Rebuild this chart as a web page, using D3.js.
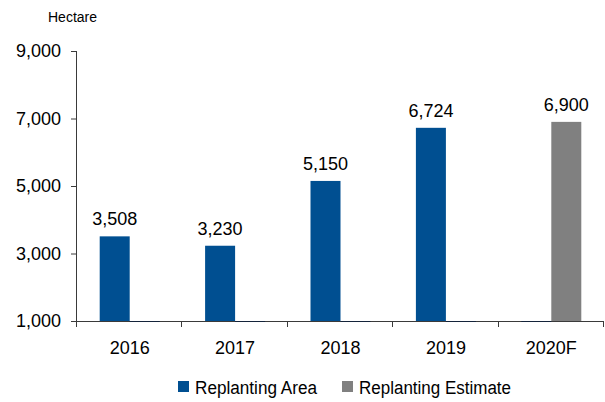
<!DOCTYPE html>
<html lang="en">
<head>
<meta charset="UTF-8">
<title>Replanting Area</title>
<style>
  body { margin: 0; background: #fff; }
  svg text { font-family: "Liberation Sans", Arial, sans-serif; fill: #000; }
</style>
</head>
<body>
<svg id="chart"></svg>
<script src="https://cdnjs.cloudflare.com/ajax/libs/d3/7.9.0/d3.min.js"></script>
<script>
// data
const years = ["2016", "2017", "2018", "2019", "2020F"];
const replantingArea = [3508, 3230, 5150, 6724, 0];
const replantingEstimate = [0, 0, 0, 0, 6900];
const yTicks = [1000, 3000, 5000, 7000, 9000];
const seriesNames = ["Replanting Area", "Replanting Estimate"];
const seriesColors = ["#004F91", "#808080"];

const w = 605, h = 402;
const margin = { top: 51, right: 1, bottom: 81, left: 77 };

const svg = d3.select("#chart").attr("width", w).attr("height", h);

const x = d3.scaleBand()
    .domain(years)
    .range([margin.left, w - margin.right]);

const y = d3.scaleLinear()
    .domain([1000, 9000])
    .range([h - margin.bottom, margin.top]);

const barW = 30;

// y axis
const yAxis = svg.append("g")
    .attr("transform", `translate(${margin.left},0)`)
    .call(d3.axisLeft(y).tickValues(yTicks).tickFormat(d3.format(",")).tickSize(6).tickPadding(10));
yAxis.select(".domain").attr("d", `M-0.5,${margin.top}V${h - margin.bottom}`);

// x axis with ticks at band edges
const xAxis = svg.append("g")
    .attr("transform", `translate(0,${h - margin.bottom})`)
    .call(d3.axisBottom(x).tickSize(0).tickPadding(20));
xAxis.select(".domain").attr("d", `M${margin.left - 6},0.5H${w - margin.right}`);
xAxis.selectAll(".edge")
    .data(years.map(d => x(d)).concat([x(years[years.length - 1]) + x.bandwidth()]))
    .enter()
    .append("line")
    .attr("class", "edge")
    .attr("x1", d => Math.round(d) - 0.5)
    .attr("x2", d => Math.round(d) - 0.5)
    .attr("y1", 0)
    .attr("y2", 6);

svg.selectAll(".domain, .tick line, .edge").attr("stroke", "#3a3a3a");
svg.selectAll(".tick text").attr("font-size", 18).attr("fill", "#000")
    .attr("font-family", "Liberation Sans, Arial, sans-serif");

// bars
const groups = [replantingArea, replantingEstimate];
groups.forEach((vals, s) => {
    svg.append("g").selectAll("rect")
        .data(vals)
        .enter()
        .append("rect")
        .attr("x", (d, i) => x(years[i]) + x.bandwidth() / 2 - barW + s * barW)
        .attr("width", barW)
        .attr("y", d => y(Math.max(d, 1000)))
        .attr("height", d => y(1000) - y(Math.max(d, 1000)))
        .attr("fill", seriesColors[s]);

    // dark sliver on the baseline where the value is missing
    svg.append("g").selectAll("line")
        .data(vals.map((d, i) => ({ d, i })).filter(o => o.d === 0))
        .enter()
        .append("line")
        .attr("x1", o => x(years[o.i]) + x.bandwidth() / 2 - barW + s * barW)
        .attr("x2", o => x(years[o.i]) + x.bandwidth() / 2 + s * barW)
        .attr("y1", y(1000) + 0.5)
        .attr("y2", y(1000) + 0.5)
        .attr("stroke", "#14233a")
        .attr("stroke-width", 1);

    // value labels
    svg.append("g").selectAll("text")
        .data(vals.map((d, i) => ({ d, i })).filter(o => o.d > 0))
        .enter()
        .append("text")
        .attr("x", o => x(years[o.i]) + x.bandwidth() / 2 - barW / 2 + s * barW)
        .attr("y", o => y(o.d) - 11)
        .attr("text-anchor", "middle")
        .attr("font-size", 18)
        .text(o => d3.format(",")(o.d));
});

// unit label
svg.append("text")
    .attr("x", 48)
    .attr("y", 22)
    .attr("font-size", 14)
    .text("Hectare");

// legend
const legend = svg.append("g").attr("transform", "translate(178,388)");
const legendX = [0, 164];
const legendLen = [122, 152];
seriesNames.forEach((name, i) => {
    legend.append("rect")
        .attr("x", legendX[i])
        .attr("y", -7)
        .attr("width", 11)
        .attr("height", 11)
        .attr("fill", seriesColors[i]);
    legend.append("text")
        .attr("x", legendX[i] + 17)
        .attr("y", 6)
        .attr("font-size", 18)
        .attr("textLength", legendLen[i])
        .attr("lengthAdjust", "spacingAndGlyphs")
        .text(name);
});
</script>
</body>
</html>
